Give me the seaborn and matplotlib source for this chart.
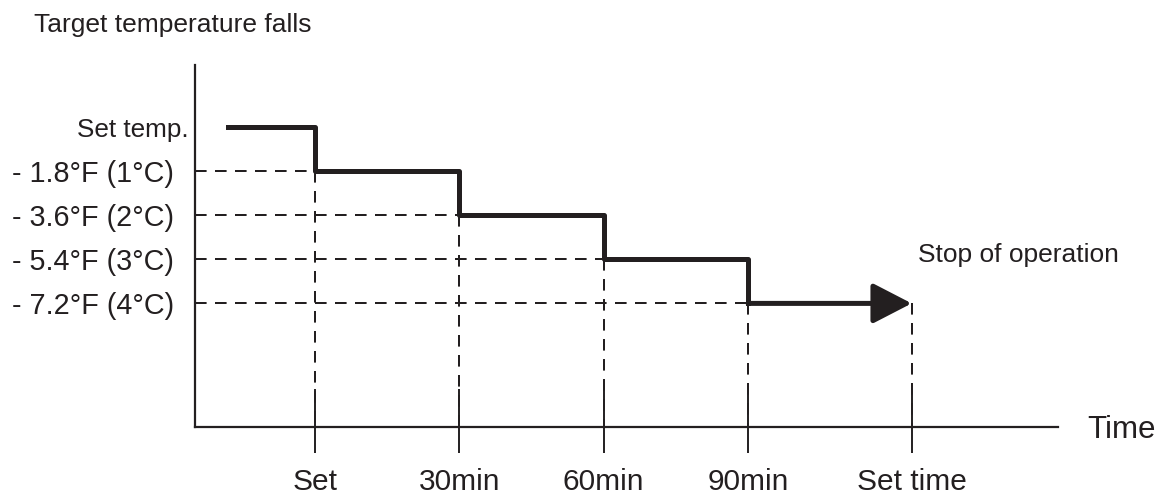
import matplotlib
matplotlib.use('Agg')
import matplotlib.pyplot as plt
import seaborn as sns
import pandas as pd

# Step schedule: time (min after "Set") and target offset (degC below set temp)
step_times = [-18, 0, 30, 60, 90]
step_levels = [0, -1, -2, -3, -4]

# x axis ticks
tick_times = [0, 30, 60, 90, 124]
tick_labels = ['Set', '30min', '60min', '90min', 'Set time']

# y axis labels for the lowered levels
level_labels = ['- 1.8°F (1°C)', '- 3.6°F (2°C)', '- 5.4°F (3°C)', '- 7.2°F (4°C)']

INK = '#231f20'

# Setting plotting style
sns.set_theme(style='white')
plt.rcParams['font.family'] = ['Liberation Sans', 'DejaVu Sans']
plt.rcParams['text.color'] = INK
plt.rcParams['xtick.color'] = INK
plt.rcParams['ytick.color'] = INK

fig = plt.figure(figsize=(11.67, 4.97), dpi=100)
ax = fig.add_axes([0.1671, 0.14145, 0.7395, 0.72777])

xmin, xmax = -24.94, 154.4
ymin, ymax = -6.796, 1.406
ax.set_xlim(xmin, xmax)
ax.set_ylim(ymin, ymax)

# Dashed guide lines
dash = dict(color=INK, lw=1.44, linestyle=(0, (5.8, 4.2)), zorder=1)
ax.hlines(step_levels[1:], xmin, tick_times[:4], **dash)
ax.vlines(tick_times[:4], step_levels[1:], ymin, **dash)
ax.vlines(tick_times[4], step_levels[-1], ymin, **dash)

# Step line
df = pd.DataFrame({'time': step_times, 'level': step_levels})
sns.lineplot(data=df, x='time', y='level', ax=ax, color=INK, lw=3.6,
             drawstyle='steps-post', estimator=None, sort=False,
             solid_capstyle='projecting', zorder=3)

# Last segment with arrow head
ax.annotate('', xy=(tick_times[-1], step_levels[-1]),
            xytext=(step_times[-1], step_levels[-1]),
            arrowprops=dict(arrowstyle='-|>,head_length=1.2,head_width=0.62',
                            mutation_scale=20, lw=3.6, color=INK,
                            shrinkA=0, shrinkB=0), zorder=3)
ax.annotate('Stop of operation', xy=(tick_times[-1], step_levels[-1]),
            xytext=(4.3, 29.5), textcoords='offset points',
            ha='left', va='baseline', fontsize=19)

# Axes
sns.despine(ax=ax)
for side in ['left', 'bottom']:
    ax.spines[side].set_linewidth(1.6)
    ax.spines[side].set_color(INK)

ax.set_xticks(tick_times)
ax.set_xticklabels(tick_labels, fontsize=21.5)
ax.set_xticks(tick_times, minor=True)
ax.xaxis.remove_overlapping_locs = False
ax.tick_params(axis='x', which='major', direction='out', length=18.7,
               width=1.4, pad=11.0, bottom=True)
ax.tick_params(axis='x', which='minor', direction='in', length=27.4,
               width=1.4, bottom=True)

ax.set_yticks(step_levels[1:])
ax.set_yticklabels(level_labels, fontsize=20.7)
ax.tick_params(axis='y', length=0, pad=15)
ax.annotate('Set temp.', xy=(0, step_levels[0]),
            xycoords=('axes fraction', 'data'),
            xytext=(-4.5, 0), textcoords='offset points',
            ha='right', va='center_baseline', fontsize=18.8)

ax.set_xlabel('')
ax.set_ylabel('')
ax.annotate('Time', xy=(1, 0), xycoords='axes fraction',
            xytext=(20.9, 0), textcoords='offset points',
            ha='left', va='center_baseline', fontsize=22.5)

fig.text(312 / 1167, 1 - 31.7 / 497, 'Target temperature falls',
         ha='right', va='baseline', fontsize=19)

fig.savefig('out.png', dpi=100)
